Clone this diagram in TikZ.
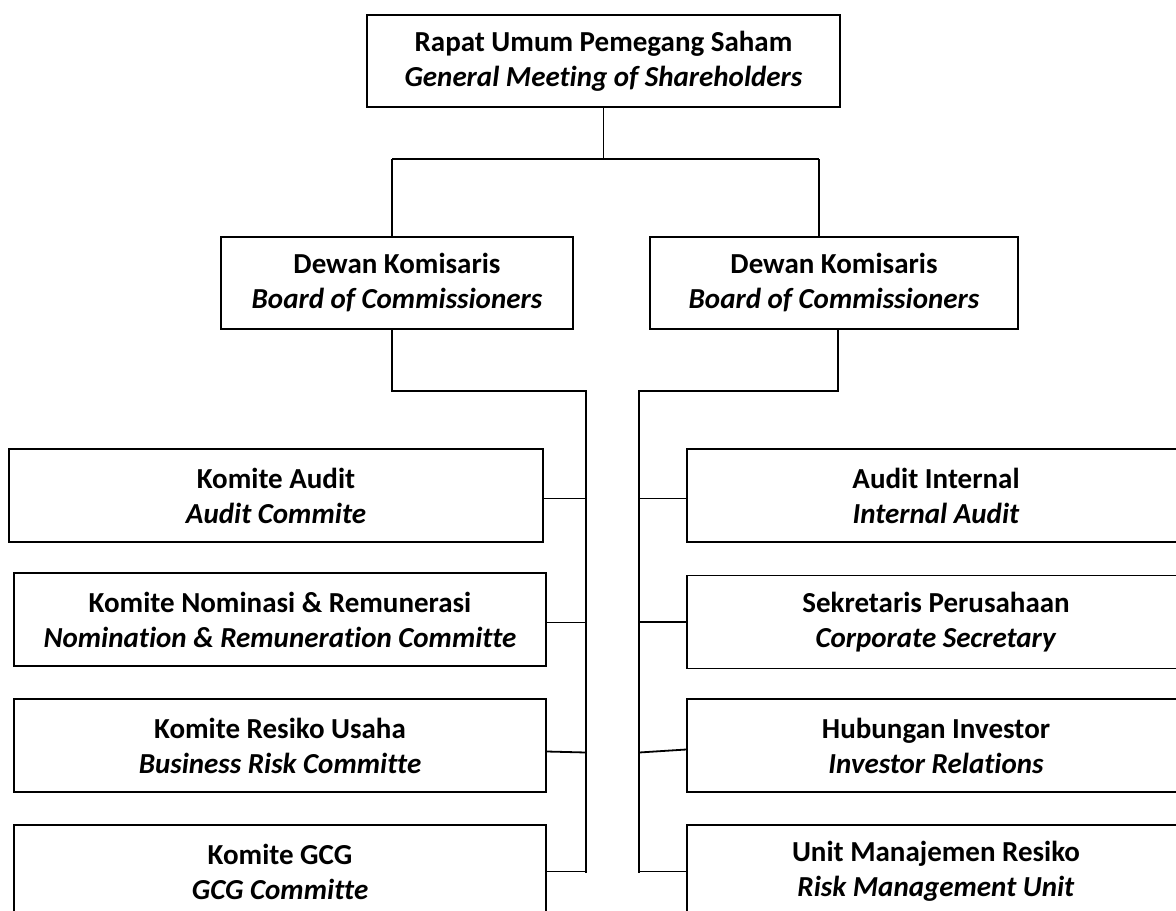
\documentclass[tikz,border=0pt]{standalone}
\usepackage{fontspec}
\setmainfont[Ligatures={NoCommon}]{Carlito}
\begin{document}
\begin{tikzpicture}[x=0.5pt,y=-0.5pt,line width=0.9pt]
        \useasboundingbox (0,0) rectangle (1176,910);
        \clip (0,0) rectangle (1176,910);

        \begin{scope}[every node/.style={rectangle,draw,align=center,inner sep=0pt,minimum height=46.5pt,font=\fontsize{14.5}{17.5}\selectfont\bfseries}]
            \node[minimum width=236.5pt,minimum height=46pt] (rups) at (603.5,61) {Rapat Umum Pemegang Saham\\\textit{General Meeting of Shareholders}};
            \node[minimum width=176pt,minimum height=46pt] (dkl) at (397,283) {Dewan Komisaris\\\textit{Board of Commissioners}};
            \node[minimum width=184pt,minimum height=46pt] (dkr) at (834,283) {Dewan Komisaris\\\textit{Board of Commissioners}};

            % Komite
            \node[minimum width=267pt] (kaudit) at (276,495.5) {Komite Audit\\\textit{Audit Commite}};
            \node[minimum width=266pt] (knom) at (280,619.5) {Komite Nominasi \& Remunerasi\\\textit{Nomination \& Remuneration Committe}};
            \node[minimum width=266pt] (kres) at (280,745.5) {Komite Resiko Usaha\\\textit{Business Risk Committe}};
            \node[minimum width=266pt] (kgcg) at (280,871.5) {Komite GCG\\\textit{GCG Committe}};

            % Unit
            \node[minimum width=249pt] (ai) at (936,495.5) {Audit Internal\\\textit{Internal Audit}};
            \node[minimum width=249pt] (sp) at (936,622) {Sekretaris Perusahaan\\\textit{Corporate Secretary}};
            \node[minimum width=249pt] (hi) at (936,745.5) {Hubungan Investor\\\textit{Investor Relations}};
            \node[minimum width=249pt] (umr) at (936,871.5) {Unit Manajemen Resiko\\\textit{Risk Management Unit}};
        \end{scope}

        % Knoten
        \coordinate (tl) at (392,159);
        \coordinate (tr) at (819,159);
        \coordinate (bl) at (392,391);
        \coordinate (br) at (838,391);
        \coordinate (lt) at (586,391);
        \coordinate (lb) at (586,873);
        \coordinate (rt) at (639,391);
        \coordinate (rb) at (639,873);

        % Verbindungen
        \draw (rups.south) -- (rups.south |- tl);
        \draw (tl) -- (tr);
        \draw (tl) -- (tl |- dkl.north);
        \draw (tr) -- (tr |- dkr.north);
        \draw (bl |- dkl.south) -- (bl) -- (lt) -- (lb);
        \draw (br |- dkr.south) -- (br) -- (rt) -- (rb);

        \draw ([yshift=-1.5pt]kaudit.east) -- ([yshift=-1.5pt]kaudit.east -| lt);
        \draw ([yshift=-1.5pt]knom.east) -- ([yshift=-1.5pt]knom.east -| lt);
        \draw ([yshift=-3pt]kres.east) -- ([yshift=-3.5pt]kres.east -| lt);
        \draw (kgcg.east) -- (kgcg.east -| lt);

        \draw ([yshift=-1.5pt]ai.west) -- ([yshift=-1.5pt]ai.west -| rt);
        \draw (sp.west) -- (sp.west -| rt);
        \draw ([yshift=-2pt]hi.west) -- ([yshift=-3.5pt]hi.west -| rt);
        \draw (umr.west) -- (umr.west -| rt);
    \end{tikzpicture}
\end{document}
